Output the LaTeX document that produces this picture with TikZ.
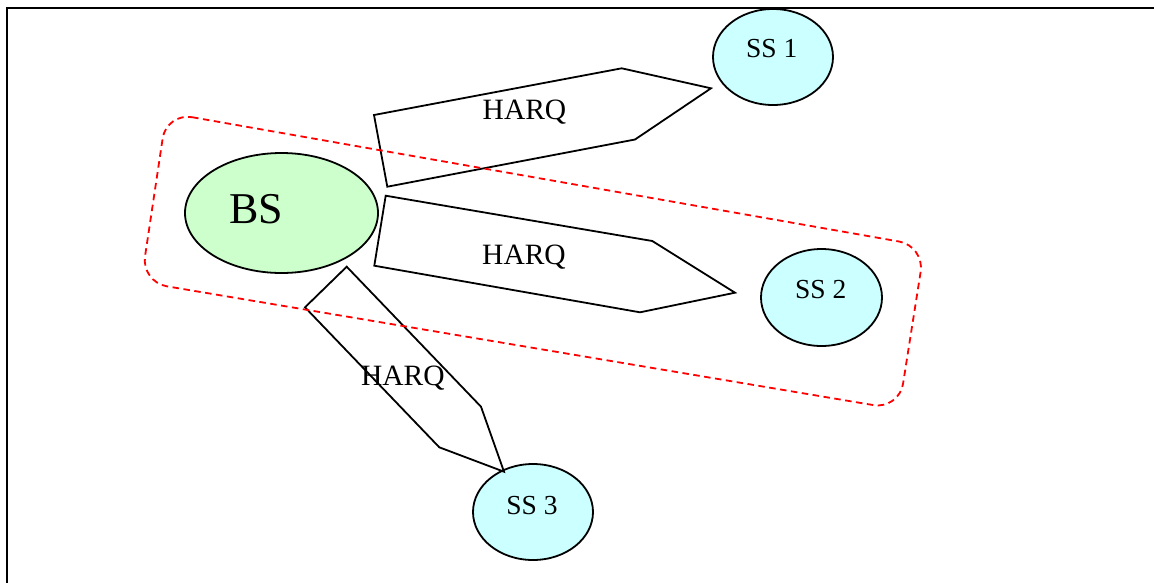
\documentclass[tikz,border=0pt]{standalone}
\usepackage{fontspec}
\setmainfont{Liberation Serif}
\usetikzlibrary{shapes.geometric}
\definecolor{bsgreen}{HTML}{CCFFCC}
\definecolor{sscyan}{HTML}{CCFFFF}
\tikzset{
  station/.style={ellipse, draw=black, line width=1.8pt, inner sep=0pt},
  bsnode/.style={station, fill=bsgreen, minimum width=193pt, minimum height=120pt},
  ssnode/.style={station, fill=sscyan, minimum width=120pt, minimum height=96pt},
  lbl/.style={anchor=base, inner sep=0pt, font=\fontsize{27.5}{30}\selectfont},
  bslbl/.style={anchor=base, inner sep=0pt, font=\fontsize{44}{46}\selectfont},
  harqlbl/.style={anchor=base, inner sep=0pt, font=\fontsize{29.5}{32}\selectfont},
  harqarrow/.style={draw=black, line width=1.8pt, line join=miter},
  group/.style={draw=red, dash pattern=on 6.5pt off 4.5pt, line width=1.8pt, rounded corners=26pt},
  frame/.style={draw=black, line width=2.6pt}
}
\begin{document}
\begin{tikzpicture}[x=1pt, y=-1pt]
\useasboundingbox (0,0) rectangle (1154,582);
\fill[white] (0,0) rectangle (1154,582);
% frame
\coordinate (f1) at (7,590);
\coordinate (f2) at (7,8);
\coordinate (f3) at (1160,8);
\draw[frame] (f1) -- (f2) -- (f3);

% stations
\node[bsnode] (bs) at (281.5,213) {};
\node[ssnode] (ss1) at (773,57) {};
\node[ssnode, minimum width=121pt, minimum height=97pt] (ss2) at (821.5,297.5) {};
\node[ssnode] (ss3) at (533,512) {};

\node[bslbl] (bst) at (256.3,223.3) {BS};
\node[lbl] (ss1t) at (771.7,57.3) {SS 1};
\node[lbl] (ss2t) at (820.8,298.3) {SS 2};
\node[lbl] (ss3t) at (532,514.3) {SS 3};

% HARQ arrow 1 (to SS 1)
\coordinate (a1) at (374,115);
\coordinate (a2) at (621.7,68.3);
\coordinate (a3) at (711,88.3);
\coordinate (a4) at (635,139.5);
\coordinate (a5) at (387.3,186.7);
\draw[harqarrow] (a1) -- (a2) -- (a3) -- (a4) -- (a5) -- cycle;
\node[harqlbl] (h1) at (524.5,119.3) {HARQ};

% HARQ arrow 2 (to SS 2)
\coordinate (b1) at (385.7,195.7);
\coordinate (b2) at (652.3,241);
\coordinate (b3) at (735,292.7);
\coordinate (b4) at (640,312.3);
\coordinate (b5) at (374.3,265.7);
\draw[harqarrow] (b1) -- (b2) -- (b3) -- (b4) -- (b5) -- cycle;
\node[harqlbl] (h2) at (524,264.5) {HARQ};

% HARQ arrow 3 (to SS 3)
\coordinate (c1) at (346.7,266.7);
\coordinate (c2) at (481,406.7);
\coordinate (c3) at (504,471.7);
\coordinate (c4) at (439.3,447.3);
\coordinate (c5) at (305,307.3);
\draw[harqarrow] (c1) -- (c2) -- (c3) -- (c4) -- (c5) -- cycle;
\node[harqlbl] (h3) at (402.8,385) {HARQ};

% dashed group
\coordinate (g1) at (166.5,112.7);
\coordinate (g2) at (924.7,246);
\coordinate (g3) at (899,409.4);
\coordinate (g4) at (141.2,282);
\draw[group] (g1) -- (g2) -- (g3) -- (g4) -- cycle;
\end{tikzpicture}
\end{document}
